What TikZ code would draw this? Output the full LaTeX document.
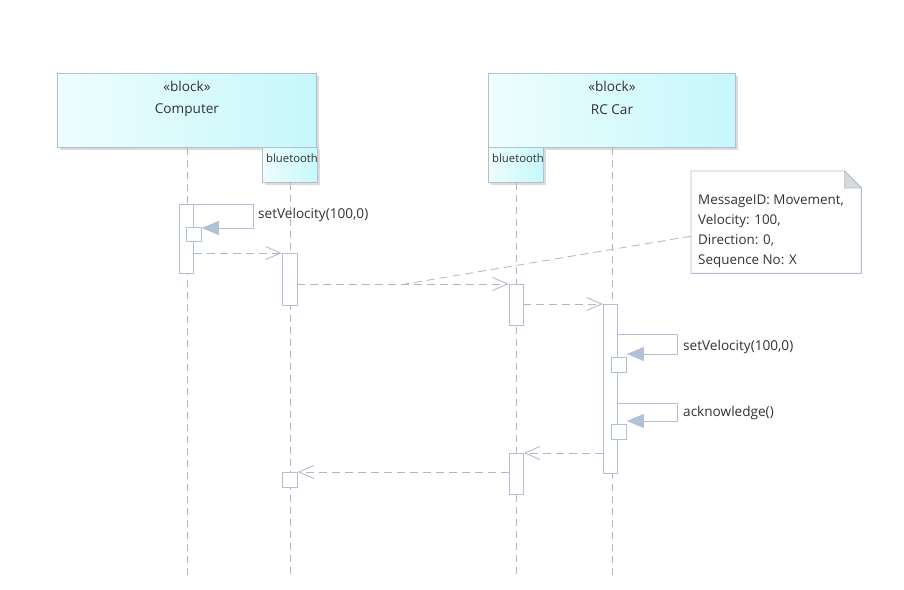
\documentclass[tikz,border=0pt]{standalone}
\usepackage{fontspec}
\setmainfont{Open Sans}
\usepackage{xcolor}
\definecolor{edgeblue}{RGB}{178,190,212}
\definecolor{lifegray}{RGB}{176,182,198}
\definecolor{tipblue}{RGB}{176,194,216}
\definecolor{cyanlight}{RGB}{238,253,253}
\definecolor{cyandeep}{RGB}{198,248,251}
\definecolor{textgray}{RGB}{50,50,50}
\usetikzlibrary{arrows.meta,positioning,calc,shadows}

\begin{document}
\begin{tikzpicture}[x=1pt, y=-1pt,
    block/.style={draw=edgeblue, line width=0.9pt, left color=cyanlight, right color=cyandeep,
        general shadow={fill=black!14, shadow xshift=3pt, shadow yshift=-3pt}},
    port/.style={block, minimum width=55pt, minimum height=35pt, anchor=north west},
    actbox/.style={draw=edgeblue, line width=0.9pt, fill=white, inner sep=0pt, minimum width=14pt},
    lifeline/.style={draw=lifegray, line width=0.8pt, dash pattern=on 7pt off 5pt},
    msg/.style={draw=lifegray, line width=0.8pt, dash pattern=on 8pt off 5pt, -{Straight Barb[length=15pt, width=13pt, line width=0.8pt]}},
    selfmsg/.style={draw=edgeblue, line width=0.9pt, -{Triangle[length=17pt, width=14pt, fill=tipblue]}},
    txt/.style={text=textgray, font=\fontsize{13.6}{16}\selectfont, inner sep=0pt}]
    \useasboundingbox[fill=white] (0,0) rectangle (904,589);

    % Blocks and ports
    \node[block, minimum width=259pt, minimum height=74pt, anchor=north west] (comp) at (57,73) {};
    \node[txt] at ($(comp.north)+(0,13)$) {«block»};
    \node[txt] at ($(comp.north)+(0,37)$) {Computer};
    \node[port] (compbt) at (262,147) {};
    \node[txt, font=\fontsize{11.3}{13}\selectfont, anchor=west] at ($(compbt.north west)+(4,11)$) {bluetooth};

    \node[block, minimum width=247pt, minimum height=74pt, anchor=north west] (rccar) at (488,73) {};
    \node[txt] at ($(rccar.north)+(0,13)$) {«block»};
    \node[txt] at ($(rccar.north)+(0,37)$) {RC Car};
    \node[port] (rcbt) at (488,147) {};
    \node[txt, font=\fontsize{11.3}{13}\selectfont, anchor=west] at ($(rcbt.north west)+(4,11)$) {bluetooth};

    % Lifelines
    \coordinate (bottom) at (0,575);
    \draw[lifeline] (comp.south) -- (comp.south |- bottom);
    \draw[lifeline] (compbt.south) -- (compbt.south |- bottom);
    \draw[lifeline] (rcbt.south) -- (rcbt.south |- bottom);
    \draw[lifeline] (rccar.south) -- (rccar.south |- bottom);

    % Activations
    \node[actbox, anchor=north, minimum height=69pt] (cact) at (186.5,204) {};
    \node[actbox, anchor=north west, minimum width=15pt, minimum height=14pt] (cself) at (186,227) {};
    \node[actbox, anchor=north, minimum width=15pt, minimum height=52pt] (btact) at (289.5,253) {};
    \node[actbox, anchor=north, minimum height=41pt] (rbtact) at (516,284) {};
    \node[actbox, anchor=north, minimum height=169pt] (rcact) at (610,304) {};
    \node[actbox, anchor=north west, minimum width=15pt, minimum height=15pt] (rcself1) at (611,357) {};
    \node[actbox, anchor=north west, minimum width=15pt, minimum height=15pt] (rcself2) at (611,424) {};
    \node[actbox, anchor=north, minimum height=41pt] (rbtret) at (516.5,453) {};
    \node[actbox, anchor=north, minimum width=15pt, minimum height=15pt] (btret) at (290,472) {};

    % Self messages
    \draw[selfmsg] (cact.north east) -- ++(59,0) |- ($(cself.north east)+(0,1)$);
    \node[txt, anchor=west] at (258,215) {setVelocity(100,0)};
    \draw[selfmsg] ($(rcact.north east)+(0,30)$) -- ++(60,0) |- ($(rcself1.north east)+(0,-3)$);
    \node[txt, anchor=west] at (683,347) {setVelocity(100,0)};
    \draw[selfmsg] ($(rcact.north east)+(0,99)$) -- ++(60,0) |- ($(rcself2.north east)+(0,-3)$);
    \node[txt, anchor=west] at (683,413) {acknowledge()};

    % Messages
    \draw[msg] (cact.east |- btact.north) -- (btact.north west);
    \draw[msg] (btact.east |- rbtact.north) -- coordinate[pos=0.51] (m2note) (rbtact.north west);
    \draw[msg] (rbtact.east |- rcact.north) -- (rcact.north west);
    \draw[msg] (rcact.west |- rbtret.north) -- (rbtret.north east);
    \draw[msg] (rbtret.west |- btret.north) -- (btret.north east);

    % Note
    \node[minimum width=170pt, minimum height=102pt, anchor=north west, inner sep=0pt] (note) at (691,171) {};
    \draw[draw=edgeblue, line width=0.9pt, fill=white] (note.north west) -- ($(note.north east)+(-17,0)$)
        -- ($(note.north east)+(0,17)$) -- (note.south east) -- (note.south west) -- cycle;
    \draw[draw=edgeblue, line width=0.6pt, fill=black!15] ($(note.north east)+(-17,0)$)
        -- ($(note.north east)+(-17,17)$) -- ($(note.north east)+(0,17)$) -- cycle;
    \node[txt, anchor=west, align=left, font=\fontsize{13.4}{20}\selectfont] at (698,231)
        {MessageID: Movement,\\Velocity: 100,\\Direction: 0,\\Sequence No: X};
    \draw[lifegray, line width=0.8pt, dash pattern=on 8pt off 5pt] ($(note.west)+(0,14)$) -- (m2note);
\end{tikzpicture}
\end{document}
